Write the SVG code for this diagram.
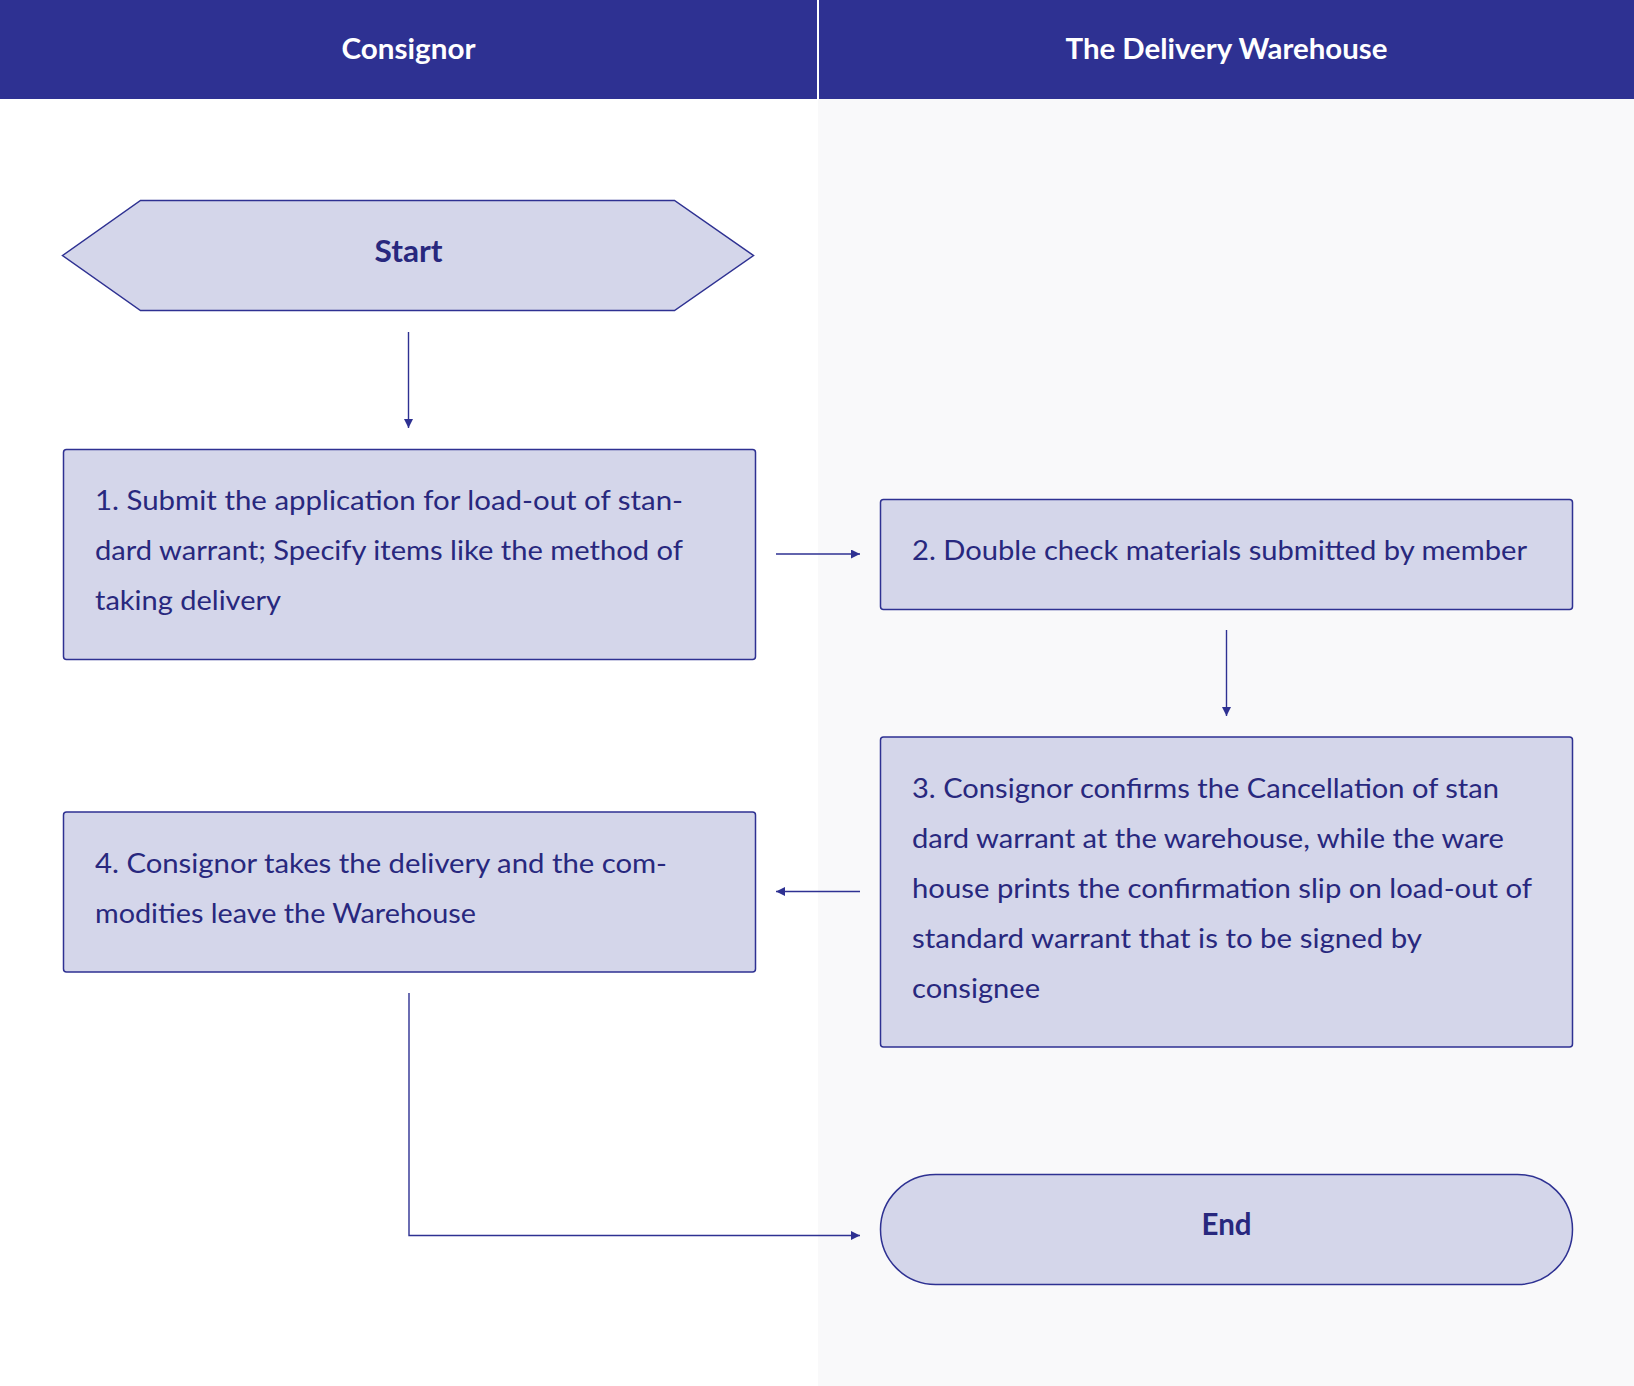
<svg xmlns="http://www.w3.org/2000/svg" width="1634" height="1386" viewBox="0 0 1634 1386">
<defs>
<style>
.hdr{fill:#2e3192}
.hdrt{font-family:Lato,"Noto Sans",sans-serif;font-weight:bold;font-size:29px;fill:#ffffff;text-anchor:middle}
.node{fill:#d4d6ea;stroke:#2e3192;stroke-width:1.5}
.t{font-family:Lato,"Noto Sans",sans-serif;font-size:27px;fill:#28287e}
.tb{font-family:Lato,"Noto Sans",sans-serif;font-weight:bold;font-size:30px;fill:#28287e;text-anchor:middle}
.edge{fill:none;stroke:#2e3192;stroke-width:1.4}
</style>
<marker id="ah" viewBox="0 0 10 10" refX="10" refY="5" markerWidth="9" markerHeight="9" markerUnits="userSpaceOnUse" orient="auto">
<path d="M0,0 L10,5 L0,10 Z" fill="#2e3192"/>
</marker>
</defs>
<rect x="0" y="0" width="1634" height="1386" fill="#ffffff"/>
<rect x="818" y="99" width="816" height="1287" fill="#f9f9fa"/>
<g id="lane-headers">
<rect class="hdr" x="0" y="0" width="817" height="99"/>
<rect class="hdr" x="819" y="0" width="815" height="99"/>
<text class="hdrt" x="408.5" y="59" textLength="134" lengthAdjust="spacingAndGlyphs">Consignor</text>
<text class="hdrt" x="1226.5" y="59" textLength="322" lengthAdjust="spacingAndGlyphs">The Delivery Warehouse</text>
</g>
<g id="start">
<polygon class="node" points="62.5,255.5 140.5,200.5 674.5,200.5 753.5,255.5 674.5,310.5 140.5,310.5"/>
<text class="tb" x="408.5" y="262" textLength="68" lengthAdjust="spacingAndGlyphs">Start</text>
</g>
<g id="step1">
<rect class="node" x="63.5" y="449.5" width="692" height="210" rx="3"/>
<text class="t" x="95" y="509.5" textLength="588" lengthAdjust="spacingAndGlyphs">1. Submit the application for load-out of stan-</text>
<text class="t" x="95" y="559.5" textLength="588" lengthAdjust="spacingAndGlyphs">dard warrant; Specify items like the method of</text>
<text class="t" x="95" y="609.5" textLength="186" lengthAdjust="spacingAndGlyphs">taking delivery</text>
</g>
<g id="step2">
<rect class="node" x="880.5" y="499.5" width="692" height="110" rx="3"/>
<text class="t" x="912" y="559.5" textLength="615" lengthAdjust="spacingAndGlyphs">2. Double check materials submitted by member</text>
</g>
<g id="step3">
<rect class="node" x="880.5" y="737" width="692" height="310" rx="3"/>
<text class="t" x="912" y="797.5" textLength="587" lengthAdjust="spacingAndGlyphs">3. Consignor confirms the Cancellation of stan</text>
<text class="t" x="912" y="847.5" textLength="592" lengthAdjust="spacingAndGlyphs">dard warrant at the warehouse, while the ware</text>
<text class="t" x="912" y="897.5" textLength="620" lengthAdjust="spacingAndGlyphs">house prints the confirmation slip on load-out of</text>
<text class="t" x="912" y="947.5" textLength="510" lengthAdjust="spacingAndGlyphs">standard warrant that is to be signed by</text>
<text class="t" x="912" y="997.5" textLength="128" lengthAdjust="spacingAndGlyphs">consignee</text>
</g>
<g id="step4">
<rect class="node" x="63.5" y="812" width="692" height="160" rx="3"/>
<text class="t" x="95" y="872.5" textLength="572" lengthAdjust="spacingAndGlyphs">4. Consignor takes the delivery and the com-</text>
<text class="t" x="95" y="922.5" textLength="381" lengthAdjust="spacingAndGlyphs">modities leave the Warehouse</text>
</g>
<g id="end">
<rect class="node" x="880.5" y="1174.5" width="692" height="110" rx="55" ry="55"/>
<text class="tb" x="1226.5" y="1235" textLength="50" lengthAdjust="spacingAndGlyphs">End</text>
</g>
<g id="connectors">
<line class="edge" x1="408.5" y1="332" x2="408.5" y2="428" marker-end="url(#ah)"/>
<line class="edge" x1="776" y1="554" x2="860" y2="554" marker-end="url(#ah)"/>
<line class="edge" x1="1226.5" y1="630" x2="1226.5" y2="716" marker-end="url(#ah)"/>
<line class="edge" x1="860" y1="891.5" x2="776" y2="891.5" marker-end="url(#ah)"/>
<polyline class="edge" points="409,993 409,1235.5 860,1235.5" marker-end="url(#ah)"/>
</g>
</svg>
